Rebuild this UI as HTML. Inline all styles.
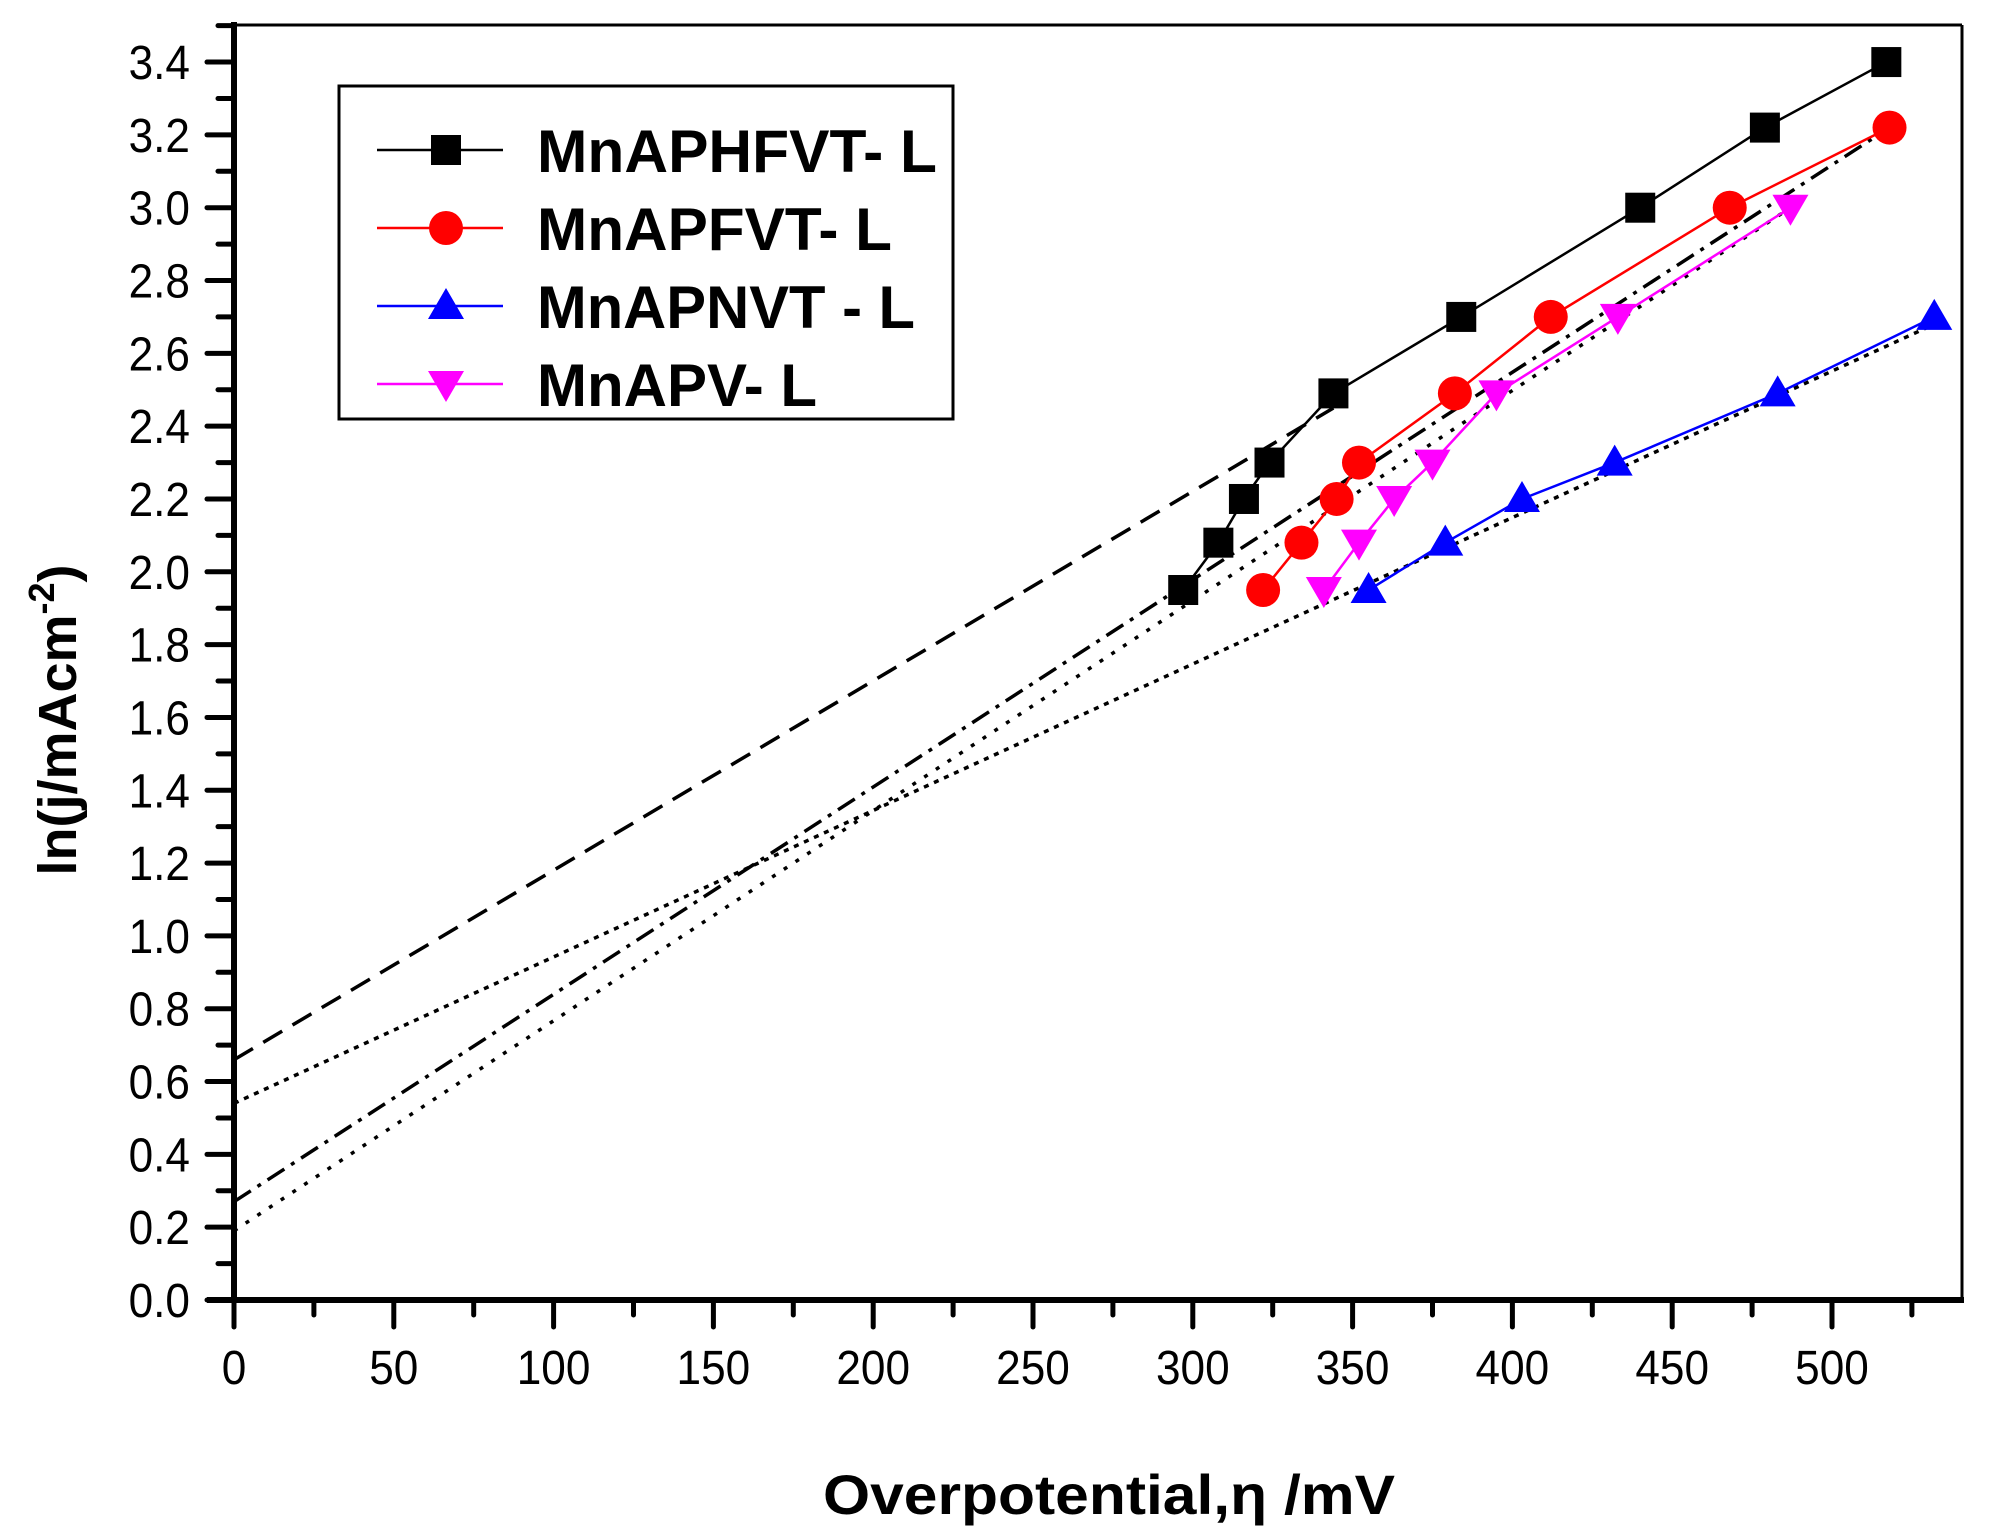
<!DOCTYPE html>
<html><head><meta charset="utf-8"><style>
html,body{margin:0;padding:0;background:#fff;}
svg{display:block;font-family:"Liberation Sans",Arial,sans-serif;}
</style></head><body>
<svg id="s" width="1995" height="1532" xmlns="http://www.w3.org/2000/svg"></svg>
<script>
const X=v=>234+3.196*v, Y=v=>1300-364.1*v;
let o='';
o+=`<line x1="234" y1="25" x2="1962" y2="25" stroke="#000" stroke-width="3"/>`;
o+=`<line x1="1962" y1="25" x2="1962" y2="1300" stroke="#000" stroke-width="3"/>`;
o+=`<line x1="234" y1="22" x2="234" y2="1303" stroke="#000" stroke-width="6"/>`;
o+=`<line x1="207" y1="1300" x2="1964" y2="1300" stroke="#000" stroke-width="6"/>`;
for(let i=0;i<=35;i++){const v=i*0.1,y=Y(v);const maj=i%2==0;
 o+=`<line x1="${maj?207:218}" y1="${y}" x2="234" y2="${y}" stroke="#000" stroke-width="5" stroke-linecap="round"/>`;
 if(maj&&i<=34) o+=`<text x="190" y="${y+17}" font-size="48" text-anchor="end" transform="translate(190 0) scale(0.92 1) translate(-190 0)">${v.toFixed(1)}</text>`;}
for(let i=0;i<=21;i++){const v=i*25,x=X(v);const maj=i%2==0;
 o+=`<line x1="${x}" y1="1300" x2="${x}" y2="${maj?1327:1315}" stroke="#000" stroke-width="5" stroke-linecap="round"/>`;
 if(maj) o+=`<text x="${x}" y="1384" font-size="48" text-anchor="middle" transform="translate(${x} 0) scale(0.92 1) translate(${-x} 0)">${v}</text>`;}
const fl=(a,b,c,d,da)=>o+=`<line x1="${X(a)}" y1="${Y(b)}" x2="${X(c)}" y2="${Y(d)}" stroke="#000" stroke-width="3.5" stroke-dasharray="${da}"/>`;
fl(0,0.66,344,2.45,"22,12");
fl(0,0.27,518,3.22,"20,8,4,8");
fl(0,0.19,487,3.0,"4,10");
fl(0,0.54,532,2.68,"5,6");
const S=[
 {c:'#000',m:'sq',p:[[297,1.95],[308,2.08],[316,2.2],[324,2.3],[344,2.49],[384,2.7],[440,3.0],[479,3.22],[517,3.4]]},
 {c:'#f00',m:'ci',p:[[322,1.95],[334,2.08],[345,2.2],[352,2.3],[382,2.49],[412,2.7],[468,3.0],[518,3.22]]},
 {c:'#00f',m:'tu',p:[[355,1.95],[379,2.08],[403,2.2],[432,2.3],[483,2.49],[532,2.7]]},
 {c:'#f0f',m:'td',p:[[341,1.95],[352,2.08],[363,2.2],[375,2.3],[395,2.49],[433,2.7],[487,3.0]]}];
const mk=(m,c,x,y)=>{
 if(m=='sq')return `<rect x="${x-15}" y="${y-15}" width="30" height="30" fill="${c}"/>`;
 if(m=='ci')return `<circle cx="${x}" cy="${y}" r="17" fill="${c}"/>`;
 if(m=='tu')return `<polygon points="${x},${y-18} ${x+18},${y+13} ${x-18},${y+13}" fill="${c}"/>`;
 return `<polygon points="${x},${y+18} ${x+18},${y-13} ${x-18},${y-13}" fill="${c}"/>`;};
S.forEach(s=>{o+=`<polyline fill="none" stroke="${s.c}" stroke-width="2.5" points="${s.p.map(q=>X(q[0])+','+Y(q[1])).join(' ')}"/>`;
 s.p.forEach(q=>o+=mk(s.m,s.c,X(q[0]),Y(q[1])));});
o+=`<rect x="339" y="86" width="614" height="333" fill="#fff" stroke="#000" stroke-width="3"/>`;
const L=['MnAPHFVT- L','MnAPFVT- L','MnAPNVT - L','MnAPV- L'],W=[400,355,378,280];
S.forEach((s,i)=>{const y=150+i*78;
 o+=`<line x1="377" y1="${y}" x2="503" y2="${y}" stroke="${s.c}" stroke-width="2.5"/>`+mk(s.m,s.c,446,y);
 o+=`<text x="537" y="${y+22}" font-size="60" font-weight="bold" textLength="${W[i]}" lengthAdjust="spacingAndGlyphs">${L[i]}</text>`;});
o+=`<text x="823" y="1514" font-size="56" font-weight="bold" textLength="572" lengthAdjust="spacingAndGlyphs">Overpotential,η /mV</text>`;
o+=`<text transform="translate(76,720) rotate(-90)" font-size="54" font-weight="bold" text-anchor="middle">ln(j/mAcm<tspan dy="-22" font-size="36">-2</tspan><tspan dy="22">)</tspan></text>`;
document.getElementById('s').innerHTML=o;
</script>
</body></html>
